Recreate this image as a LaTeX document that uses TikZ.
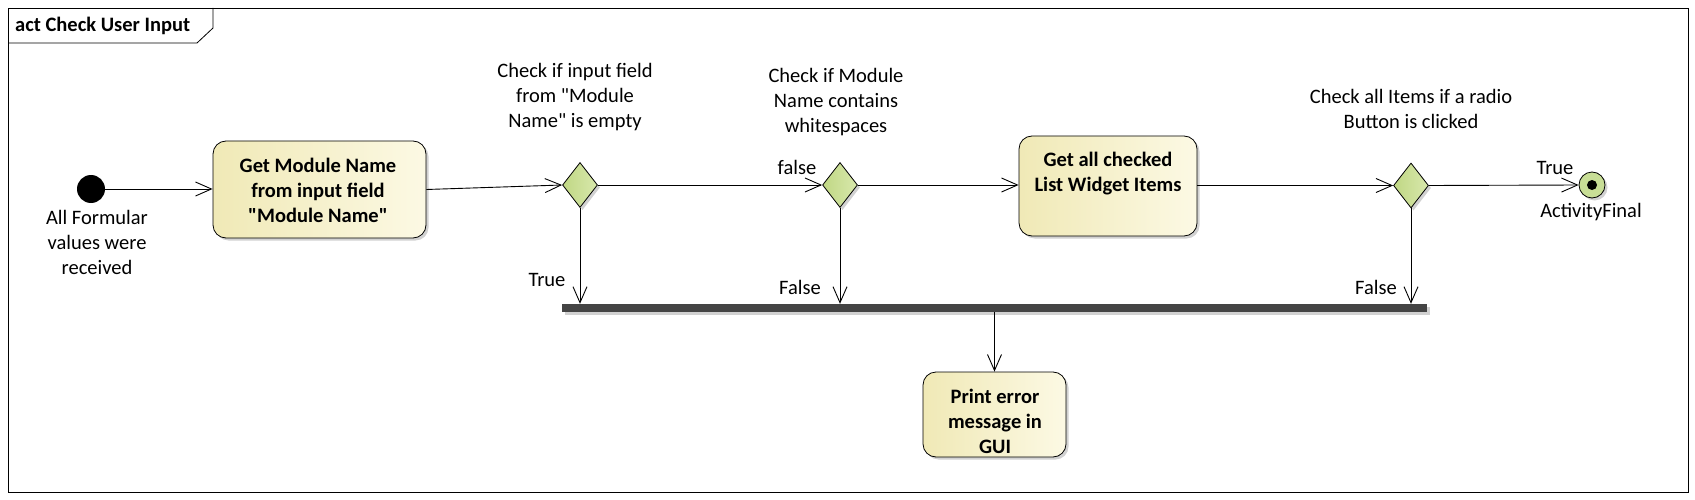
\documentclass[tikz,border=0pt]{standalone}
\usepackage{fontspec}
\setmainfont{Carlito}
\newfontfamily\calib{Carlito}
\usetikzlibrary{arrows.meta,shapes.geometric,shadows}
\definecolor{actL}{RGB}{240,233,182}
\definecolor{actR}{RGB}{252,249,228}
\definecolor{decL}{RGB}{192,215,132}
\definecolor{decR}{RGB}{216,232,172}
\definecolor{finc}{RGB}{200,222,150}
\definecolor{barc}{RGB}{68,68,68}
\begin{document}
\begin{tikzpicture}[x=1pt,y=-1pt,
  every node/.style={inner sep=0pt},
  txt/.style={font=\calib\fontsize{20.5}{25}\selectfont, align=center},
  btxt/.style={font=\calib\bfseries\fontsize{20.5}{25}\selectfont, align=center},
  shad/.style={drop shadow={opacity=0.18,fill=black,shadow xshift=2.5pt,shadow yshift=-2.5pt}},
  action/.style={draw, line width=0.8pt, rounded corners=13pt, left color=actL, right color=actR, shad},
  decision/.style={diamond, draw, line width=0.8pt, minimum width=35pt, minimum height=45pt, left color=decL, right color=decR, shad},
  joinbar/.style={rectangle, fill=barc, minimum height=8pt, shad},
  arr/.style={draw, line width=0.9pt, -{Straight Barb[length=16pt,width=14pt]}}
]
\useasboundingbox (0,0) rectangle (1695,500);
% frame
\draw[line width=0.8pt] (8,8) rectangle (1688,492);
\draw[line width=0.8pt] (8,43) -- (197,43) -- (213,28) -- (213,8);
\node[btxt, anchor=west] (title) at (15,26) {act Check User Input};

% nodes
\node[circle, fill=black, minimum size=28pt] (init) at (91,189) {};
\node[txt] (initl) at (97,242) {All Formular\\values were\\received};

\node[action, minimum width=213pt, minimum height=97pt] (a1) at (319.5,189.5) {};
\node[btxt] (a1t) at (318,190) {Get Module Name\\from input field\\"Module Name"};

\node[decision] (d1) at (580,185) {};
\node[txt] (d1l) at (575,97) {Check if input field\\from "Module\\Name" is empty};

\node[decision] (d2) at (840,185) {};
\node[txt] (d2l) at (836,102) {Check if Module\\Name contains\\whitespaces};

\node[action, minimum width=178pt, minimum height=100pt] (a3) at (1108,186) {};
\node[btxt] (a3t) at (1108,174) {Get all checked\\List Widget Items};

\node[decision] (d3) at (1411,185.5) {};
\node[txt] (d3l) at (1411,109) {Check all Items if a radio\\Button is clicked};

\node[circle, draw, line width=0.8pt, fill=finc, minimum size=26pt, shad] (fin) at (1592,185) {};
\node[circle, fill=black, minimum size=10pt] (findot) at (fin.center) {};
\node[txt] (finl) at (1591,212) {ActivityFinal};

\node[joinbar, minimum width=865pt] (bar) at (994.5,308) {};

\node[action, minimum width=143pt, minimum height=85pt] (pe) at (994.5,414.5) {};
\node[btxt] (pet) at (995,421) {Print error\\message in\\GUI};

% labels
\node[txt] (lf1) at (797,167) {false};
\node[txt] (lt1) at (547,280) {True};
\node[txt] (lf2) at (800,287) {False};
\node[txt] (lf3) at (1376,287) {False};
\node[txt] (lt3) at (1555,168) {True};

% connectors
\draw[arr] (init.east) -- (a1.west |- init.east);
\draw[arr] (a1.east) -- (d1.west);
\draw[arr] (d1.east) -- (d2.west);
\draw[arr] (d2.east) -- (d2.east -| a3.west);
\draw[arr] (d3.west -| a3.east) -- (d3.west);
\draw[arr] (d3.east) -- (fin.west);
\draw[arr] (d1.south) -- (d1.south |- bar.north);
\draw[arr] (d2.south) -- (d2.south |- bar.north);
\draw[arr] (d3.south) -- (d3.south |- bar.north);
\draw[arr] (bar.south -| pe.north) -- (pe.north);
\end{tikzpicture}
\end{document}
